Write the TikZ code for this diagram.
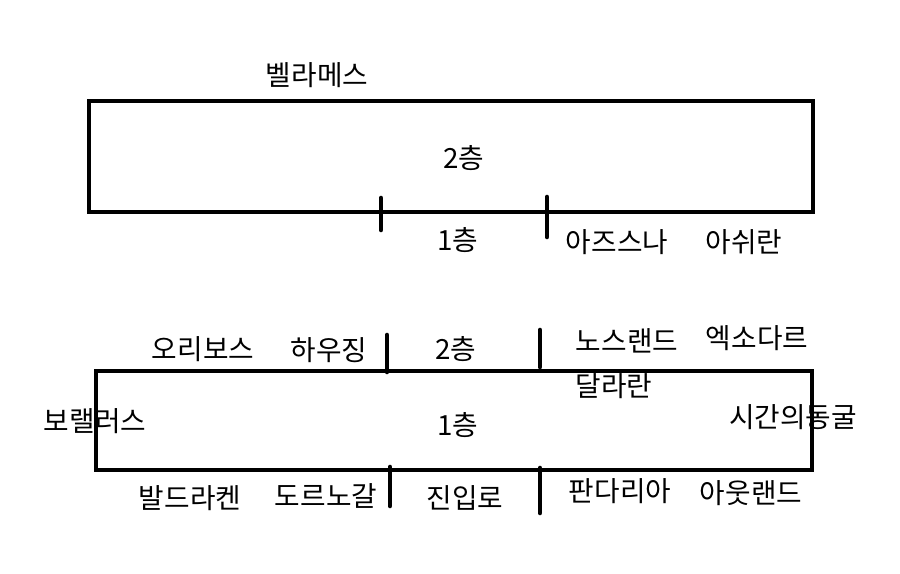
\documentclass[tikz,border=0pt]{standalone}
\usepackage{fontspec}
\setmainfont{Noto Sans CJK KR}
\begin{document}
\begin{tikzpicture}[x=0.02cm,y=-0.02cm,
  box/.style={draw=black,line width=2.4pt},
  tick/.style={draw=black,line width=2.6pt,line cap=round},
  lbl/.style={inner sep=0pt,font=\fontsize{15.8pt}{18pt}\selectfont}]
\useasboundingbox (0,0) rectangle (900,574);
% top rectangle
\node[box,minimum width=724*0.02cm,minimum height=111*0.02cm,inner sep=0pt,anchor=north west] (top) at (87,99) {};
\coordinate (t1a) at (381,198); \coordinate (t1b) at (381,230);
\coordinate (t2a) at (547,197); \coordinate (t2b) at (547,237);
\draw[tick] (t1a) -- (t1b);
\draw[tick] (t2a) -- (t2b);
\node[lbl] (bel) at (317,75) {벨라메스};
\node[lbl] (f2a) at (464,158) {2층};
\node[lbl] (f1a) at (458,240) {1층};
\node[lbl] (azs) at (617,242) {아즈스나};
\node[lbl] (ash) at (744,242) {아쉬란};
% bottom rectangle
\node[box,minimum width=716*0.02cm,minimum height=99*0.02cm,inner sep=0pt,anchor=north west] (bot) at (94,369) {};
\coordinate (b1a) at (387,335); \coordinate (b1b) at (387,372);
\coordinate (b2a) at (540,330); \coordinate (b2b) at (540,367);
\coordinate (b3a) at (390,467); \coordinate (b3b) at (390,506);
\coordinate (b4a) at (540,468); \coordinate (b4b) at (540,513);
\draw[tick] (b1a) -- (b1b);
\draw[tick] (b2a) -- (b2b);
\draw[tick] (b3a) -- (b3b);
\draw[tick] (b4a) -- (b4b);
\node[lbl] (ori) at (203,349) {오리보스};
\node[lbl] (hou) at (329,350) {하우징};
\node[lbl] (f2b) at (456,349) {2층};
\node[lbl] (nor) at (627,341) {노스랜드};
\node[lbl] (exo) at (757,338) {엑소다르};
\node[lbl] (dal) at (614,386) {달라란};
\node[lbl] (bor) at (95,421) {보랠러스};
\node[lbl] (f1b) at (458,425) {1층};
\node[lbl] (cav) at (793,417) {시간의동굴};
\node[lbl] (val) at (190,498) {발드라켄};
\node[lbl] (dor) at (326,496) {도르노갈};
\node[lbl] (ent) at (465,498) {진입로};
\node[lbl] (pan) at (620,491) {판다리아};
\node[lbl] (out) at (751,493) {아웃랜드};
\end{tikzpicture}
\end{document}
